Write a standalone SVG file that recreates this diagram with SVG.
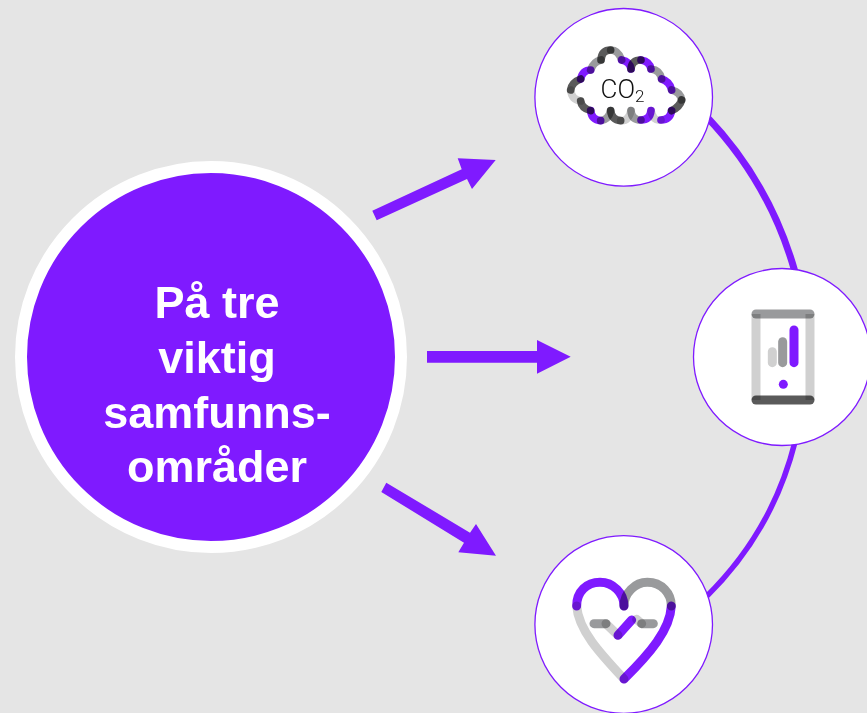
<svg xmlns="http://www.w3.org/2000/svg" width="867" height="713" viewBox="0 0 867 713">
<style>
.txt{font-family:"Liberation Sans",Arial,sans-serif;font-weight:700;font-size:45px;fill:#fff;text-anchor:middle}
.ring{fill:#fff;stroke:#7f1aff;stroke-width:1.3}
.arrow{fill:#7f1aff}
.arc{fill:none;stroke:#7f1aff}
.ic path{fill:none;stroke-width:23;stroke-linecap:round;mix-blend-mode:multiply}
.ic .w{stroke-width:27}
.p{stroke:#7f1aff}.d{stroke:#5a5a5a}.m{stroke:#999a9c}.l{stroke:#d0d0d0}
.co{font-family:Roboto,"Liberation Sans",sans-serif;font-weight:300;fill:#111}
</style>
<rect width="867" height="713" fill="#e5e5e5"/>
<g id="connectors">
<path class="arc" stroke-width="7" d="M706 116A370 370 0 0 1 795 272"/>
<path class="arc" stroke-width="5.5" d="M795 442A330 330 0 0 1 706 597"/>
<polygon class="arrow" points="372.3,210.7 461.7,169.3 457.7,158.3 495.7,160 472,189 467,179 376.7,220.3"/>
<polygon class="arrow" points="427,351 537,351 537,340 570.7,356.7 537,373.7 537,362.7 427,362.7"/>
<polygon class="arrow" points="386.3,482.7 470,532.7 476,524 496,555.7 458.3,552.3 464,542.7 381.3,492"/>
</g>
<g id="node-main">
<circle cx="211" cy="357" r="190" fill="#7f1aff" stroke="#fff" stroke-width="12"/>
<text class="txt" x="217" y="318.3">På tre</text>
<text class="txt" x="217" y="373">viktig</text>
<text class="txt" x="217" y="427.7">samfunns-</text>
<text class="txt" x="217" y="482">områder</text>
</g>
<g id="node-co2">
<circle class="ring" cx="623.7" cy="97.3" r="88.8"/>
<g class="ic" transform="translate(530 5) scale(.3333)">
<path class="d" d="M122 255Q125 232 152 222"/>
<path class="p" d="M152 222Q158 195 182 195"/>
<path class="m" d="M182 195Q190 170 213 165"/>
<path class="d" d="M213 165Q215 135 242 135"/>
<path class="m" d="M242 135Q265 135 275 165"/>
<path class="p" d="M275 165Q300 170 303 192"/>
<path class="d" d="M303 192Q305 165 333 165"/>
<path class="p" d="M333 165Q360 170 363 192"/>
<path class="m" d="M363 192Q390 195 395 222"/>
<path class="p" d="M395 222Q420 230 425 255"/>
<path class="m" d="M425 255Q452 262 455 285"/>
<path class="d" d="M455 285Q450 305 425 317"/>
<path class="p" d="M425 317Q420 345 393 345"/>
<path class="l" d="M393 345Q370 350 363 317"/>
<path class="p" d="M363 317Q360 345 333 345"/>
<path class="m" d="M333 345Q305 345 303 317"/>
<path class="l" d="M303 317Q295 350 272 347"/>
<path class="d" d="M272 347Q245 345 242 317"/>
<path class="m" d="M242 317Q235 345 212 347"/>
<path class="p" d="M212 347Q185 345 182 317"/>
<path class="d" d="M182 317Q155 310 152 288"/>
<path class="l" d="M152 288Q125 285 122 255"/>
</g>
<text class="co" x="600.5" y="98.3" font-size="26">CO<tspan font-size="17" dy="4">2</tspan></text>
</g>
<g id="node-phone">
<circle class="ring" cx="782" cy="357" r="88.5"/>
<g class="ic" transform="translate(690 265) scale(.3333)">
<path class="m w" d="M198 147H360"/>
<path class="l w" style="stroke-linecap:butt" d="M198 147V405"/>
<path class="l w" style="stroke-linecap:butt" d="M360 147V405"/>
<path class="d w" d="M198 405H360"/>
<path class="l w" d="M247 260V293"/>
<path class="m w" d="M278 230V293"/>
<path class="p w" d="M312 195V293"/>
<path class="p w" d="M280 358h.01"/>
</g>
</g>
<g id="node-heart">
<circle class="ring" cx="623.7" cy="624.5" r="88.8"/>
<g class="ic" transform="translate(530 530) scale(.3333)">
<path class="p w" d="M140 228C140 185 170 157 210 157C250 157 282 190 282 228"/>
<path class="m w" d="M282 228C282 190 315 157 352 157C395 157 424 190 424 228"/>
<path class="p w" d="M424 228C420 300 360 370 282 447"/>
<path class="l w" d="M282 447C210 370 145 300 140 228"/>
<path class="m w" d="M192 281H228"/>
<path class="l w" d="M228 281L264 316"/>
<path class="p w" d="M264 316L305 270"/>
<path class="l w" d="M320 268L335 281"/>
<path class="m w" d="M335 281H370"/>
</g>
</g>
</svg>
